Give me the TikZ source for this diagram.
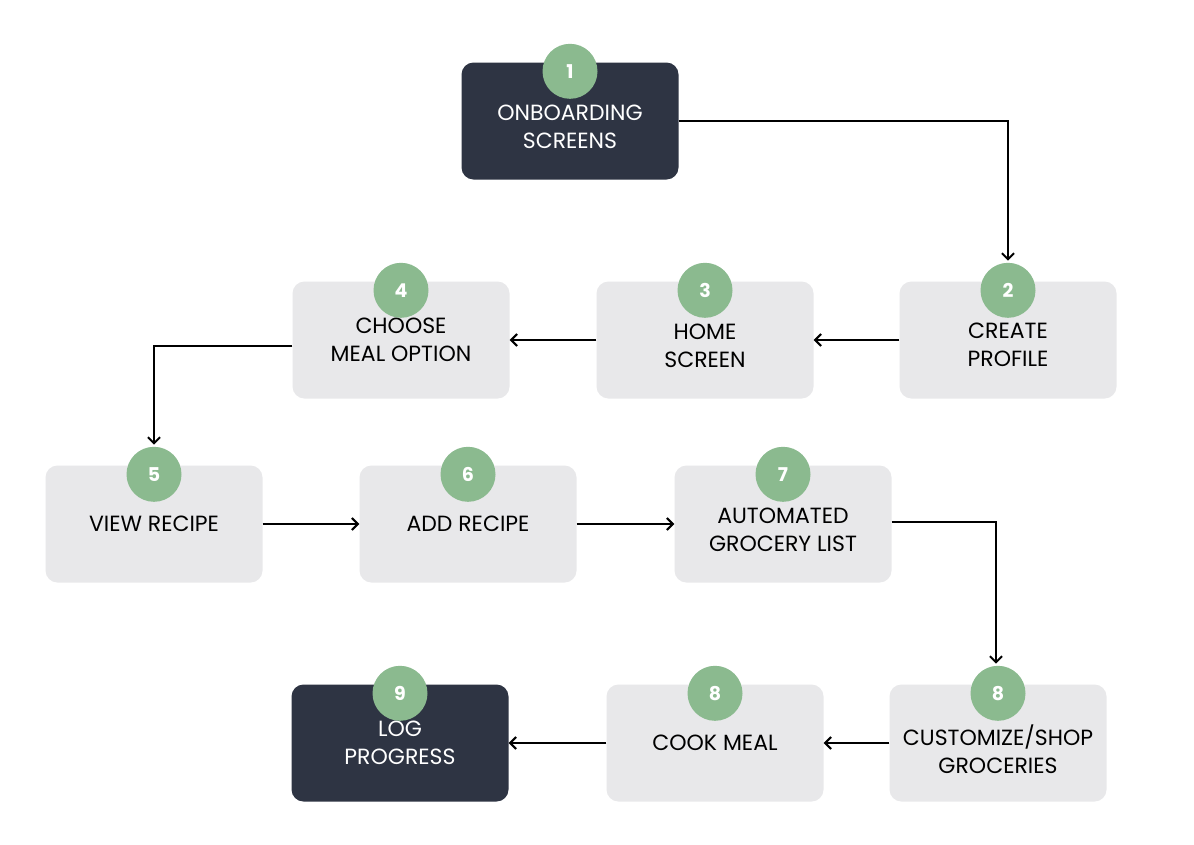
\documentclass[tikz,border=0pt]{standalone}
\usepackage{fontspec}
\setmainfont{Poppins}
\usetikzlibrary{arrows.meta}
\definecolor{darkbox}{HTML}{2E3443}
\definecolor{lightbox}{HTML}{E8E8EA}
\definecolor{badge}{HTML}{8BBA8F}
\tikzset{
  stepbox/.style={rectangle, rounded corners=12pt, minimum width=217pt, minimum height=117pt, inner sep=0pt},
  lightstep/.style={stepbox, fill=lightbox},
  darkstep/.style={stepbox, fill=darkbox},
  steptext/.style={align=center, font=\fontsize{22}{27.5}\selectfont, text=black},
  darktext/.style={steptext, text=white},
  badgenode/.style={circle, fill=badge, minimum size=55pt, inner sep=0pt, text=white, font=\fontsize{19}{20}\selectfont\bfseries},
  flow/.style={line width=2pt, -{Straight Barb[length=6pt,width=12pt,line width=2pt]}}
}
\begin{document}
\begin{tikzpicture}[x=1pt,y=1pt]
\useasboundingbox[fill=white] (0,0) rectangle (1194,-844);
% boxes
\node[darkstep]  (b1) at (570,-121) {};
\node[lightstep] (b2) at (1008,-340) {};
\node[lightstep] (b3) at (705,-340) {};
\node[lightstep] (b4) at (401,-340) {};
\node[lightstep] (b5) at (154,-524) {};
\node[lightstep] (b6) at (468,-524) {};
\node[lightstep] (b7) at (783,-524) {};
\node[lightstep] (b8b) at (998,-743) {};
\node[lightstep] (b8a) at (715,-743) {};
\node[darkstep]  (b9) at (400,-743) {};
% texts
\node[darktext] (t1) at ([yshift=-6pt]b1.center) {ONBOARDING\\SCREENS};
\node[steptext] (t2) at ([yshift=-5pt]b2.center) {CREATE\\PROFILE};
\node[steptext] (t3) at ([yshift=-6pt]b3.center) {HOME\\SCREEN};
\node[steptext] (t4) at ([yshift=0pt]b4.center) {CHOOSE\\MEAL OPTION};
\node[steptext] (t5) at ([yshift=0pt]b5.center) {VIEW RECIPE};
\node[steptext] (t6) at ([yshift=0pt]b6.center) {ADD RECIPE};
\node[steptext] (t7) at ([yshift=-6pt]b7.center) {AUTOMATED\\GROCERY LIST};
\node[steptext] (t8b) at ([yshift=-6pt]b8b.center) {CUSTOMIZE/SHOP\\GROCERIES};
\node[steptext] (t8a) at ([yshift=0pt]b8a.center) {COOK MEAL};
\node[darktext] (t9) at ([yshift=0pt]b9.center) {LOG\\PROGRESS};
% badges
\node[badgenode] (c1) at ([yshift=-9pt]b1.north) {1};
\node[badgenode] (c2) at ([yshift=-9pt]b2.north) {2};
\node[badgenode] (c3) at ([yshift=-9pt]b3.north) {3};
\node[badgenode] (c4) at ([yshift=-9pt]b4.north) {4};
\node[badgenode] (c5) at ([yshift=-9pt]b5.north) {5};
\node[badgenode] (c6) at ([yshift=-9pt]b6.north) {6};
\node[badgenode] (c7) at ([yshift=-9pt]b7.north) {7};
\node[badgenode] (c8b) at ([yshift=-9pt]b8b.north) {8};
\node[badgenode] (c8a) at ([yshift=-9pt]b8a.north) {8};
\node[badgenode] (c9) at ([yshift=-9pt]b9.north) {9};
% connectors
\draw[flow] (b1.east) -| ([yshift=2pt]c2.north);
\draw[flow] (b2.west) -- (b3.east);
\draw[flow] (b3.west) -- (b4.east);
\draw[flow] ([yshift=-6pt]b4.west) -| ([yshift=2pt]c5.north);
\draw[flow] (b5.east) -- (b6.west);
\draw[flow] (b6.east) -- (b7.west);
\draw[flow] ([yshift=2pt]b7.east) -| ([xshift=-2pt,yshift=2pt]c8b.north);
\draw[flow] (b8b.west) -- (b8a.east);
\draw[flow] (b8a.west) -- (b9.east);
\end{tikzpicture}
\end{document}
